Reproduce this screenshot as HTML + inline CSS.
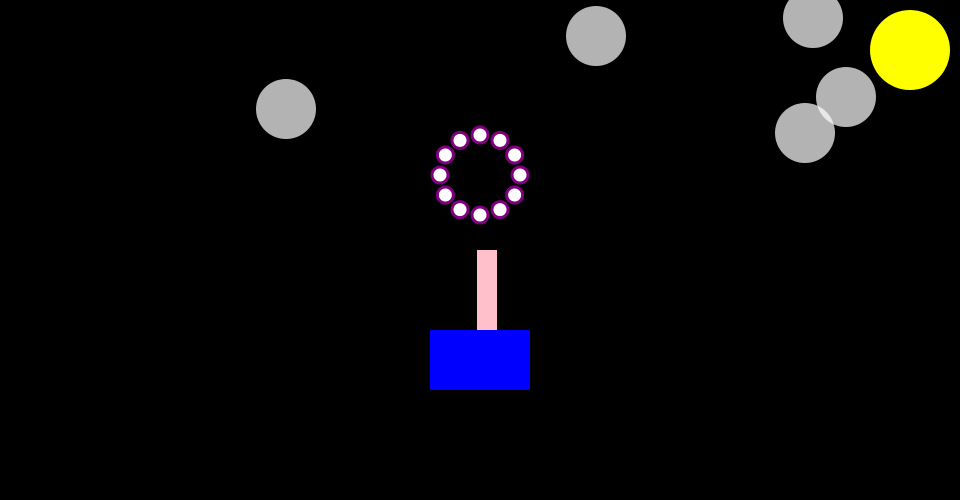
<!DOCTYPE html>
<html><head><style>html,body{margin:0;padding:0;background:#000;}svg{display:block}</style></head>
<body>
<svg width="960" height="500" viewBox="0 0 960 500" xmlns="http://www.w3.org/2000/svg">
<rect width="960" height="500" fill="#000"/>
<g fill="#fff" fill-opacity="0.7">
<circle cx="286" cy="109" r="30"/>
<circle cx="596" cy="36" r="30"/>
<circle cx="813" cy="18" r="30"/>
<circle cx="846" cy="97" r="30"/>
<circle cx="805" cy="133" r="30"/>
</g>
<circle cx="910" cy="50" r="40" fill="#ff0"/>
<g fill="#fff" stroke="#800080" stroke-width="3">
<circle cx="480" cy="135" r="8"/>
<circle cx="500" cy="140.36" r="8"/>
<circle cx="514.64" cy="155" r="8"/>
<circle cx="520" cy="175" r="8"/>
<circle cx="514.64" cy="195" r="8"/>
<circle cx="500" cy="209.64" r="8"/>
<circle cx="480" cy="215" r="8"/>
<circle cx="460" cy="209.64" r="8"/>
<circle cx="445.36" cy="195" r="8"/>
<circle cx="440" cy="175" r="8"/>
<circle cx="445.36" cy="155" r="8"/>
<circle cx="460" cy="140.36" r="8"/>
</g>
<rect x="477" y="250" width="20" height="80" fill="#ffc0cb"/>
<rect x="430" y="330" width="100" height="60" fill="#00f"/>
</svg>
</body></html>
